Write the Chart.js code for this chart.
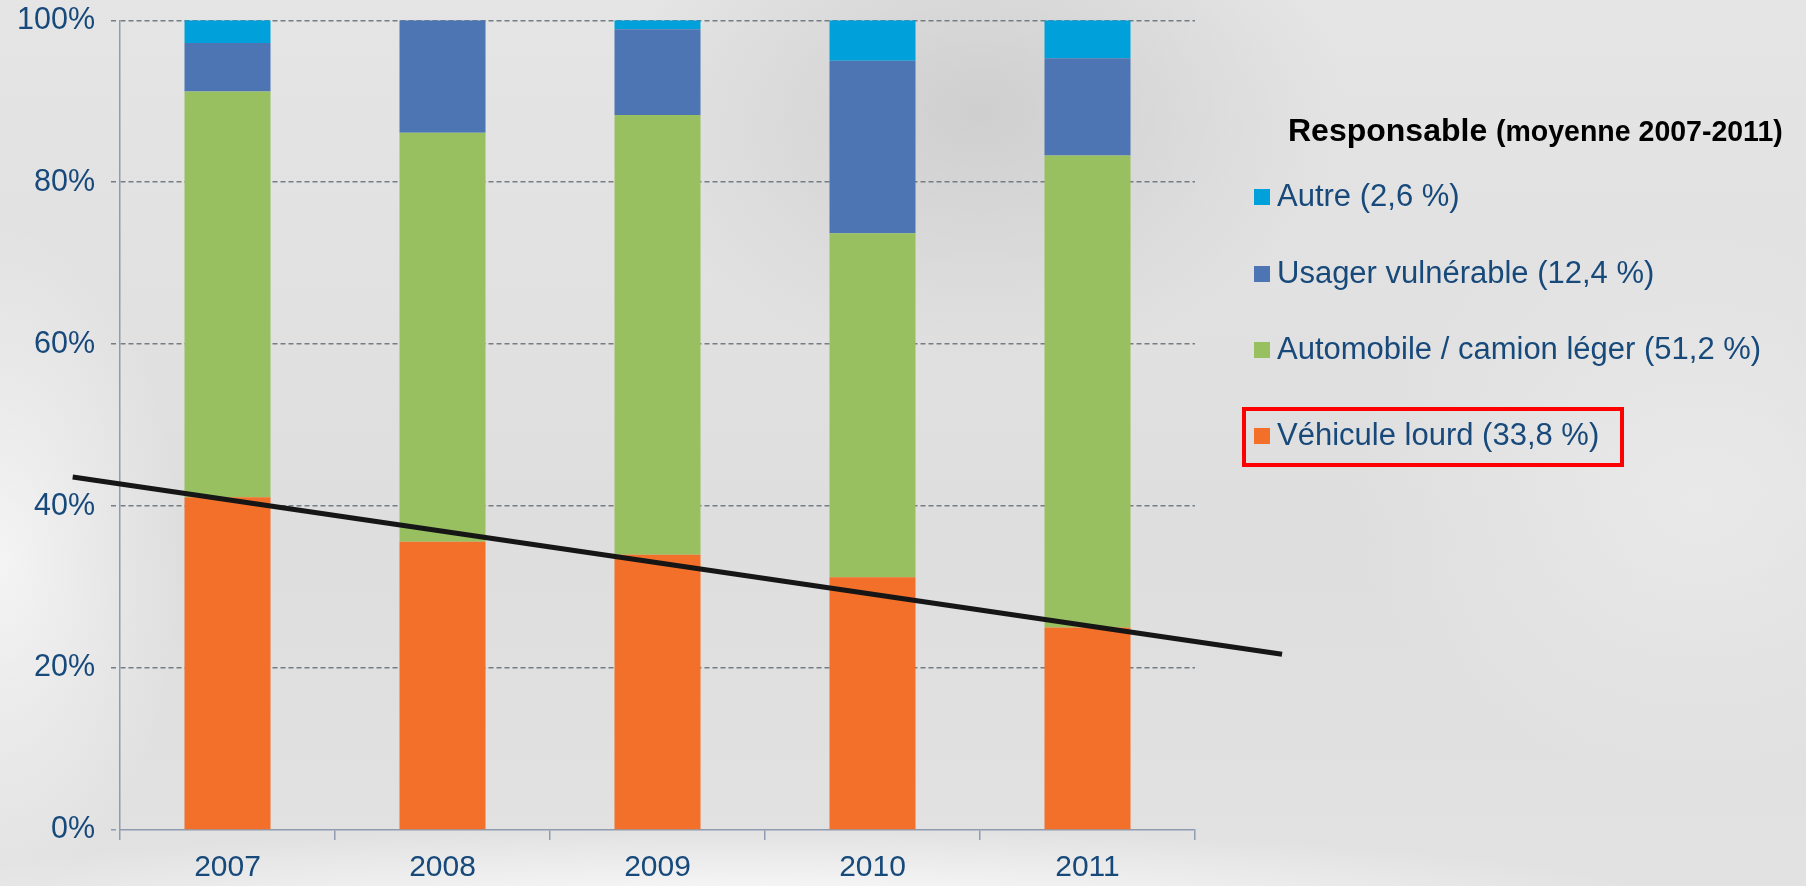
<!DOCTYPE html>
<html lang="fr">
<head>
    <meta charset="UTF-8">
    <title>Responsable (moyenne 2007-2011)</title>
    <script src="https://cdn.jsdelivr.net/npm/chart.js"></script>
    <style>
        html, body { margin: 0; padding: 0; }
        body {
            width: 1806px;
            height: 886px;
            overflow: hidden;
            position: relative;
            font-family: "Liberation Sans", Arial, sans-serif;
            background:
                radial-gradient(ellipse 1300px 110px at 760px 905px, rgba(252,252,252,0.95), rgba(252,252,252,0) 70%),
                radial-gradient(ellipse 260px 480px at 0px 560px, rgba(248,248,248,0.85), rgba(248,248,248,0) 70%),
                radial-gradient(ellipse 520px 360px at 980px 110px, rgba(200,200,200,0.75), rgba(200,200,200,0) 70%),
                radial-gradient(ellipse 500px 400px at 1700px 500px, rgba(236,236,236,0.8), rgba(236,236,236,0) 70%),
                linear-gradient(180deg, #e5e5e5 0%, #dedede 60%, #e2e2e2 100%);
        }
        /* décalé vers le haut pour que la ligne 100 % tombe vers y=20 */
        .chart-wrap { position: absolute; left: 0; top: -14px; width: 1806px; height: 900px; }
        .legende-titre {
            position: absolute;
            left: 1288px;
            top: 114px;
            font-size: 32px;
            line-height: 1;
            font-weight: bold;
            color: #000;
            white-space: nowrap;
        }
        .legende-titre span {
            display: inline-block;
            font-size: 30px;
            transform: scaleX(0.95);
            transform-origin: left center;
        }
        .item {
            position: absolute;
            left: 1254px;
            font-size: 31px;
            line-height: 1;
            color: #17497b;
            white-space: nowrap;
        }
        .item i {
            display: inline-block;
            width: 16px;
            height: 16px;
            margin-right: 7px;
            vertical-align: 1px;
        }
        .cadre {
            position: absolute;
            left: 1242px;
            top: 407px;
            width: 382px;
            height: 60px;
            box-sizing: border-box;
            border: 4px solid #ff0000;
        }
    </style>
</head>
<body>
    <div class="chart-wrap">
        <canvas id="graphResponsable" width="1806" height="900"></canvas>
    </div>
    <div class="legende-titre">Responsable <span>(moyenne 2007-2011)</span></div>
    <div id="legende"></div>
    <div class="cadre"></div>

    <script>
    // Données (en %)
    const annees = ['2007', '2008', '2009', '2010', '2011'];
    const nomsSeries = ['Véhicule lourd', 'Automobile / camion léger', 'Usager vulnérable', 'Autre'];
    const moyennes = ['33,8', '51,2', '12,4', '2,6'];
    const vehiculeLourd = [41.1, 35.6, 34.0, 31.2, 25.0];
    const automobile = [50.1, 50.5, 54.3, 42.5, 58.3];
    const usagerVulnerable = [6.0, 13.9, 10.6, 21.3, 12.0];
    const autre = [2.8, 0, 1.1, 5.0, 4.7];
    const couleurs = ['#f2702a', '#98bf60', '#4e75b3', '#00a1db'];

    // droite de tendance (position sur l'axe des catégories, valeur en %)
    const tendanceX = [-0.72, 4.905];
    const tendanceY = [43.6, 21.7];

    const graduationsY = [0, 20, 40, 60, 80, 100];

    const bleuTexte = '#17497b';
    const couleurAxe = '#8e9bb0';
    const couleurGrille = '#757c82';

    // légende HTML (ordre inversé, comme la pile)
    const centresLegende = [434, 348, 272, 195];
    const legende = document.getElementById('legende');
    nomsSeries.forEach((nom, i) => {
        const div = document.createElement('div');
        div.className = 'item';
        div.style.top = (centresLegende[i] - 15.5) + 'px';
        div.innerHTML = '<i style="background:' + couleurs[i] + '"></i>' + nom + ' (' + moyennes[i] + ' %)';
        legende.appendChild(div);
    });

    const series = [vehiculeLourd, automobile, usagerVulnerable, autre];

    const datasets = series.map((valeurs, i) => ({
        type: 'bar',
        label: nomsSeries[i],
        data: valeurs,
        backgroundColor: couleurs[i],
        borderWidth: 0,
        xAxisID: 'x',
        yAxisID: 'y',
        order: 1,
        grouped: false,
        categoryPercentage: 1,
        barPercentage: 0.4
    }));

    datasets.push({
        type: 'line',
        label: 'Tendance',
        data: tendanceX.map((x, i) => ({ x: x, y: tendanceY[i] })),
        xAxisID: 'xTendance',
        yAxisID: 'y',
        stack: 'tendance',
        borderColor: '#161616',
        borderWidth: 5,
        pointRadius: 0,
        fill: false,
        clip: false,
        order: 0
    });

    new Chart(document.getElementById('graphResponsable'), {
        data: {
            labels: annees,
            datasets: datasets
        },
        options: {
            responsive: false,
            animation: false,
            layout: {
                padding: { left: 0, top: 2, right: 611, bottom: 0 }
            },
            plugins: {
                legend: { display: false },
                tooltip: { enabled: false }
            },
            scales: {
                x: {
                    stacked: true,
                    offset: true,
                    grid: {
                        offset: true,
                        drawOnChartArea: false,
                        drawTicks: true,
                        tickLength: 10,
                        color: couleurAxe,
                        lineWidth: 1.5
                    },
                    border: { color: couleurAxe, width: 1.5 },
                    ticks: {
                        color: bleuTexte,
                        font: { family: 'Liberation Sans', size: 30 },
                        padding: 10,
                        maxRotation: 0
                    },
                    afterFit: scale => { scale.height = 56; }
                },
                xTendance: {
                    type: 'linear',
                    display: false,
                    min: -0.5,
                    max: 4.5
                },
                y: {
                    stacked: true,
                    min: 0,
                    max: 100,
                    afterBuildTicks: scale => {
                        scale.ticks = graduationsY.map(v => ({ value: v }));
                    },
                    ticks: {
                        color: bleuTexte,
                        font: { family: 'Liberation Sans', size: 30.5 },
                        padding: 16,
                        callback: v => v + '%'
                    },
                    grid: {
                        color: ctx => (ctx.tick && ctx.tick.value === 0) ? 'rgba(0,0,0,0)' : couleurGrille,
                        tickColor: ctx => (ctx.tick && ctx.tick.value === 0) ? couleurAxe : couleurGrille,
                        lineWidth: 1.5,
                        tickLength: 9,
                        tickBorderDash: [5, 3]
                    },
                    border: { color: couleurAxe, width: 1.5, dash: [5, 3] },
                    afterFit: scale => { scale.width = 120; }
                }
            }
        }
    });
    </script>
</body>
</html>
